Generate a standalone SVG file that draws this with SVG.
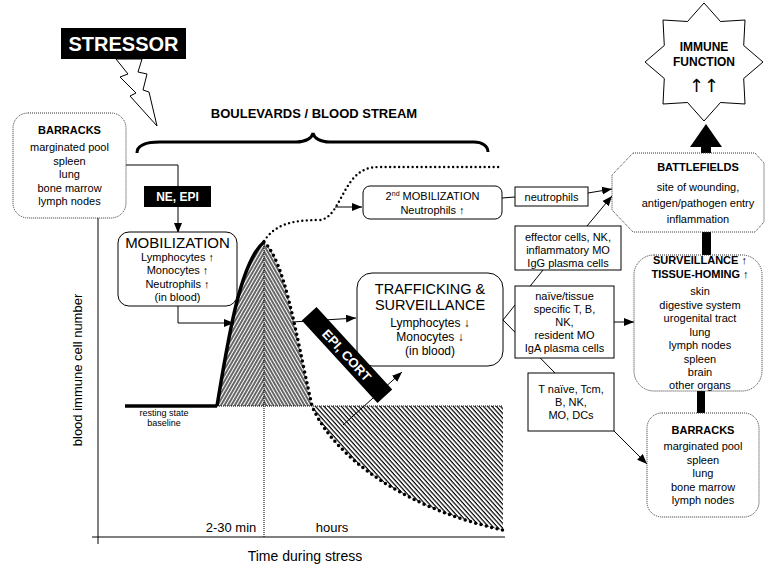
<svg xmlns="http://www.w3.org/2000/svg" width="765" height="564" viewBox="0 0 765 564">
<defs>
<style>
text{font-family:"Liberation Sans",Arial,sans-serif;fill:#000;text-anchor:middle}
.b{font-weight:bold}
.w{fill:#fff;font-weight:bold}
.box{fill:#fff;stroke:#000;stroke-width:1}
.dot{fill:#fff;stroke:#333;stroke-width:1;stroke-dasharray:1 1}
.ln{fill:none;stroke:#000;stroke-width:1}
.s11{font-size:11px}
.s12{font-size:12px}
</style>
<marker id="ah" viewBox="0 0 10 10" refX="10" refY="5" markerWidth="10" markerHeight="10" markerUnits="userSpaceOnUse" orient="auto"><path d="M0,1 L10,5 L0,9 Z"/></marker>
<pattern id="hl" patternUnits="userSpaceOnUse" width="3" height="3" patternTransform="rotate(30)"><line x1="1" y1="0" x2="1" y2="3" stroke="#000" stroke-width="1.2"/></pattern>
<pattern id="hr" patternUnits="userSpaceOnUse" width="3" height="3" patternTransform="rotate(-30)"><line x1="1" y1="0" x2="1" y2="3" stroke="#000" stroke-width="1.2"/></pattern>
<pattern id="hb" patternUnits="userSpaceOnUse" width="3.2" height="3.2" patternTransform="rotate(-42)"><line x1="1" y1="0" x2="1" y2="3.2" stroke="#000" stroke-width="1.2"/></pattern>
<clipPath id="cl"><rect x="200" y="200" width="64" height="220"/></clipPath>
<clipPath id="cr"><rect x="264" y="200" width="80" height="220"/></clipPath>
</defs>

<g id="stressor">
<rect x="61" y="28" width="125" height="31" fill="#000"/>
<text x="123.5" y="51" class="w" style="font-size:20px">STRESSOR</text>
<polygon points="116,59 142,59 138,72 147,74 143,90 149,92 157,126 130,96 136,93 120,77 128,74" fill="#fff" stroke="#000" stroke-width="1"/>
</g>

<g id="boulevards">
<text x="314" y="118" class="b" style="font-size:13px">BOULEVARDS / BLOOD STREAM</text>
<path d="M137,153 C137,146 145,142 160,142 L296,142 C306,142 312,138 313,133 C314,138 320,142 330,142 L474,142 C482,142 488,146 488,152" fill="none" stroke="#000" stroke-width="3"/>
</g>

<g id="axes">
<line x1="98" y1="218" x2="98" y2="544" class="ln"/>
<line x1="92" y1="537" x2="505" y2="537" class="ln"/>
<text transform="translate(82,370) rotate(-90)" style="font-size:13px">blood immune cell number</text>
<text x="231" y="532" style="font-size:13px">2-30 min</text>
<text x="332" y="532" style="font-size:13px">hours</text>
<text x="305" y="561" style="font-size:14px">Time during stress</text>
<line x1="264" y1="242" x2="264" y2="537" stroke="#000" stroke-width="1" stroke-dasharray="1 1"/>
<line x1="217" y1="406" x2="503" y2="406" stroke="#000" stroke-width="1" stroke-dasharray="1 1"/>
<line x1="125" y1="406" x2="217" y2="406" stroke="#000" stroke-width="3.5"/>
<text x="164" y="416" style="font-size:9px">resting state</text>
<text x="164" y="426" style="font-size:9px">baseline</text>
</g>

<g id="curve">
<path d="M217,406 C228,340 240,262 264,242 C285,262 295,330 312,406 Z" fill="url(#hl)" clip-path="url(#cl)"/>
<path d="M217,406 C228,340 240,262 264,242 C285,262 295,330 312,406 Z" fill="url(#hr)" clip-path="url(#cr)"/>
<path d="M312,406 C335,460 410,510 503,530 L503,406 Z" fill="url(#hb)"/>
<path d="M217,406 C228,340 240,262 264,242" fill="none" stroke="#000" stroke-width="3.5"/>
<path d="M264,242 C285,262 295,330 312,406 C335,460 410,510 503,530" fill="none" stroke="#000" stroke-width="3.5" stroke-dasharray="0 5.5" stroke-linecap="round"/>
<path d="M264,241 C275,225 290,220 320,220 C335,218 340,195 352,180 C360,170 368,167 380,167 L500,167" fill="none" stroke="#000" stroke-width="2.4" stroke-dasharray="0 4.5" stroke-linecap="round"/>
</g>

<g id="connectors">
<polyline points="126,165 178,165 178,233" class="ln" marker-end="url(#ah)"/>
<polyline points="178,306 178,323 234,323" class="ln" marker-end="url(#ah)"/>
<line x1="335" y1="207" x2="362" y2="207" class="ln" marker-end="url(#ah)"/>
<line x1="292" y1="322" x2="356" y2="318" class="ln" marker-end="url(#ah)"/>
<line x1="343" y1="425" x2="402" y2="372" class="ln" marker-end="url(#ah)"/>
<line x1="502" y1="198" x2="515" y2="197" class="ln"/>
<line x1="588" y1="193" x2="612" y2="189" class="ln" marker-end="url(#ah)"/>
<line x1="587" y1="226" x2="612" y2="196" class="ln" marker-end="url(#ah)"/>
<line x1="503" y1="320" x2="543" y2="270" class="ln"/>
<line x1="503" y1="320" x2="555" y2="373" class="ln"/>
<line x1="614" y1="322" x2="634" y2="322" class="ln" marker-end="url(#ah)"/>
<line x1="614" y1="431" x2="647" y2="464" class="ln" marker-end="url(#ah)"/>
<polygon points="706,124 722,147 711,147 711,153 701,153 701,147 690,147" fill="#000"/>
<rect x="702" y="232" width="9" height="24" fill="#000"/>
<rect x="697" y="391" width="8" height="23" fill="#000"/>
</g>

<g id="barracks1">
<rect x="13" y="113" width="113" height="105" rx="15" class="dot"/>
<text x="69.5" y="134" class="b s11">BARRACKS</text>
<text x="69.5" y="151" class="s11">marginated pool</text>
<text x="69.5" y="164.5" class="s11">spleen</text>
<text x="69.5" y="178" class="s11">lung</text>
<text x="69.5" y="191.5" class="s11">bone marrow</text>
<text x="69.5" y="205" class="s11">lymph nodes</text>
</g>

<g id="ne-epi">
<rect x="144" y="186" width="67" height="21" fill="#000"/>
<text x="177.5" y="201" class="w" style="font-size:12px">NE, EPI</text>
</g>

<g id="mobilization">
<rect x="118" y="232" width="119" height="74" rx="11" class="box"/>
<text x="177.5" y="248" style="font-size:15px">MOBILIZATION</text>
<text x="177.5" y="261" class="s11">Lymphocytes ↑</text>
<text x="177.5" y="274" class="s11">Monocytes ↑</text>
<text x="177.5" y="287.5" class="s11">Neutrophils ↑</text>
<text x="177.5" y="301" class="s11">(in blood)</text>
</g>

<g id="mobilization2">
<rect x="363" y="186" width="139" height="33" rx="7" class="box"/>
<text x="432.5" y="200" class="s11">2<tspan font-size="7" dy="-4">nd</tspan><tspan dy="4"> MOBILIZATION</tspan></text>
<text x="432.5" y="214" class="s11">Neutrophils ↑</text>
</g>

<g id="neutrophils">
<rect x="515" y="187" width="73" height="19" class="box"/>
<text x="551.5" y="200.5" class="s11">neutrophils</text>
</g>

<g id="trafficking">
<rect x="357" y="273" width="146" height="93" rx="15" class="box"/>
<text x="430" y="294" style="font-size:14.5px">TRAFFICKING &amp;</text>
<text x="430" y="310" style="font-size:14.5px">SURVEILLANCE</text>
<text x="430" y="327" class="s12">Lymphocytes ↓</text>
<text x="430" y="341" class="s12">Monocytes ↓</text>
<text x="430" y="355" class="s12">(in blood)</text>
</g>

<g id="effector">
<rect x="515" y="226" width="106" height="44" class="box"/>
<text x="568" y="241" class="s11">effector cells, NK,</text>
<text x="568" y="254" class="s11">inflammatory MO</text>
<text x="568" y="267" class="s11">IgG plasma cells</text>
</g>

<g id="naive">
<rect x="515" y="286" width="99" height="72" class="box"/>
<text x="564.5" y="300" class="s11">naïve/tissue</text>
<text x="564.5" y="313" class="s11">specific T, B,</text>
<text x="564.5" y="326" class="s11">NK,</text>
<text x="564.5" y="339" class="s11">resident MO</text>
<text x="564.5" y="352" class="s11">IgA plasma cells</text>
</g>

<g id="tnaive">
<rect x="528" y="373" width="86" height="58" class="box"/>
<text x="571" y="393" class="s11">T naïve, Tcm,</text>
<text x="571" y="406" class="s11">B, NK,</text>
<text x="571" y="419" class="s11">MO, DCs</text>
</g>

<g id="epi-cort">
<g transform="translate(347,355) rotate(47.5)">
<rect x="-56" y="-10" width="112" height="20" fill="#000"/>
<text x="0" y="5" class="w" style="font-size:13px">EPI, CORT</text>
</g>
</g>

<g id="immune-function">
<polygon points="704,3 720.5,21.5 745,20 743.7,45.5 763,62 743.7,78.5 745,104 720.5,102.5 704,121 687.5,102.5 663,104 664.3,78.5 645,62 664.3,45.5 663,20 687.5,21.5" fill="#fff" stroke="#000" stroke-width="1"/>
<text x="704" y="51" class="b s12">IMMUNE</text>
<text x="704" y="66" class="b s12">FUNCTION</text>
<text x="704" y="92" style="font-family:'DejaVu Sans',sans-serif;font-size:18px">↑↑</text>
</g>

<g id="battlefields">
<polygon points="633,153 755,153 764,163 764,222 755,232 633,232 612,210 612,175" class="dot"/>
<text x="698" y="171" class="b s11">BATTLEFIELDS</text>
<text x="698" y="191" class="s11">site of wounding,</text>
<text x="698" y="207" class="s11">antigen/pathogen entry</text>
<text x="698" y="223" class="s11">inflammation</text>
</g>

<g id="surveillance">
<rect x="634" y="255" width="128" height="136" rx="20" class="dot"/>
<text x="700" y="264" class="b s11">SURVEILLANCE ↑</text>
<text x="700" y="278" class="b s11">TISSUE-HOMING ↑</text>
<text x="700" y="295" class="s11">skin</text>
<text x="700" y="308.5" class="s11">digestive system</text>
<text x="700" y="322" class="s11">urogenital tract</text>
<text x="700" y="335.5" class="s11">lung</text>
<text x="700" y="349" class="s11">lymph nodes</text>
<text x="700" y="362.5" class="s11">spleen</text>
<text x="700" y="376" class="s11">brain</text>
<text x="700" y="389" class="s11">other organs</text>
</g>

<g id="barracks2">
<rect x="647" y="413" width="112" height="104" rx="15" class="dot"/>
<text x="703" y="434" class="b s11">BARRACKS</text>
<text x="703" y="450" class="s11">marginated pool</text>
<text x="703" y="464" class="s11">spleen</text>
<text x="703" y="477" class="s11">lung</text>
<text x="703" y="491" class="s11">bone marrow</text>
<text x="703" y="504" class="s11">lymph nodes</text>
</g>
</svg>
